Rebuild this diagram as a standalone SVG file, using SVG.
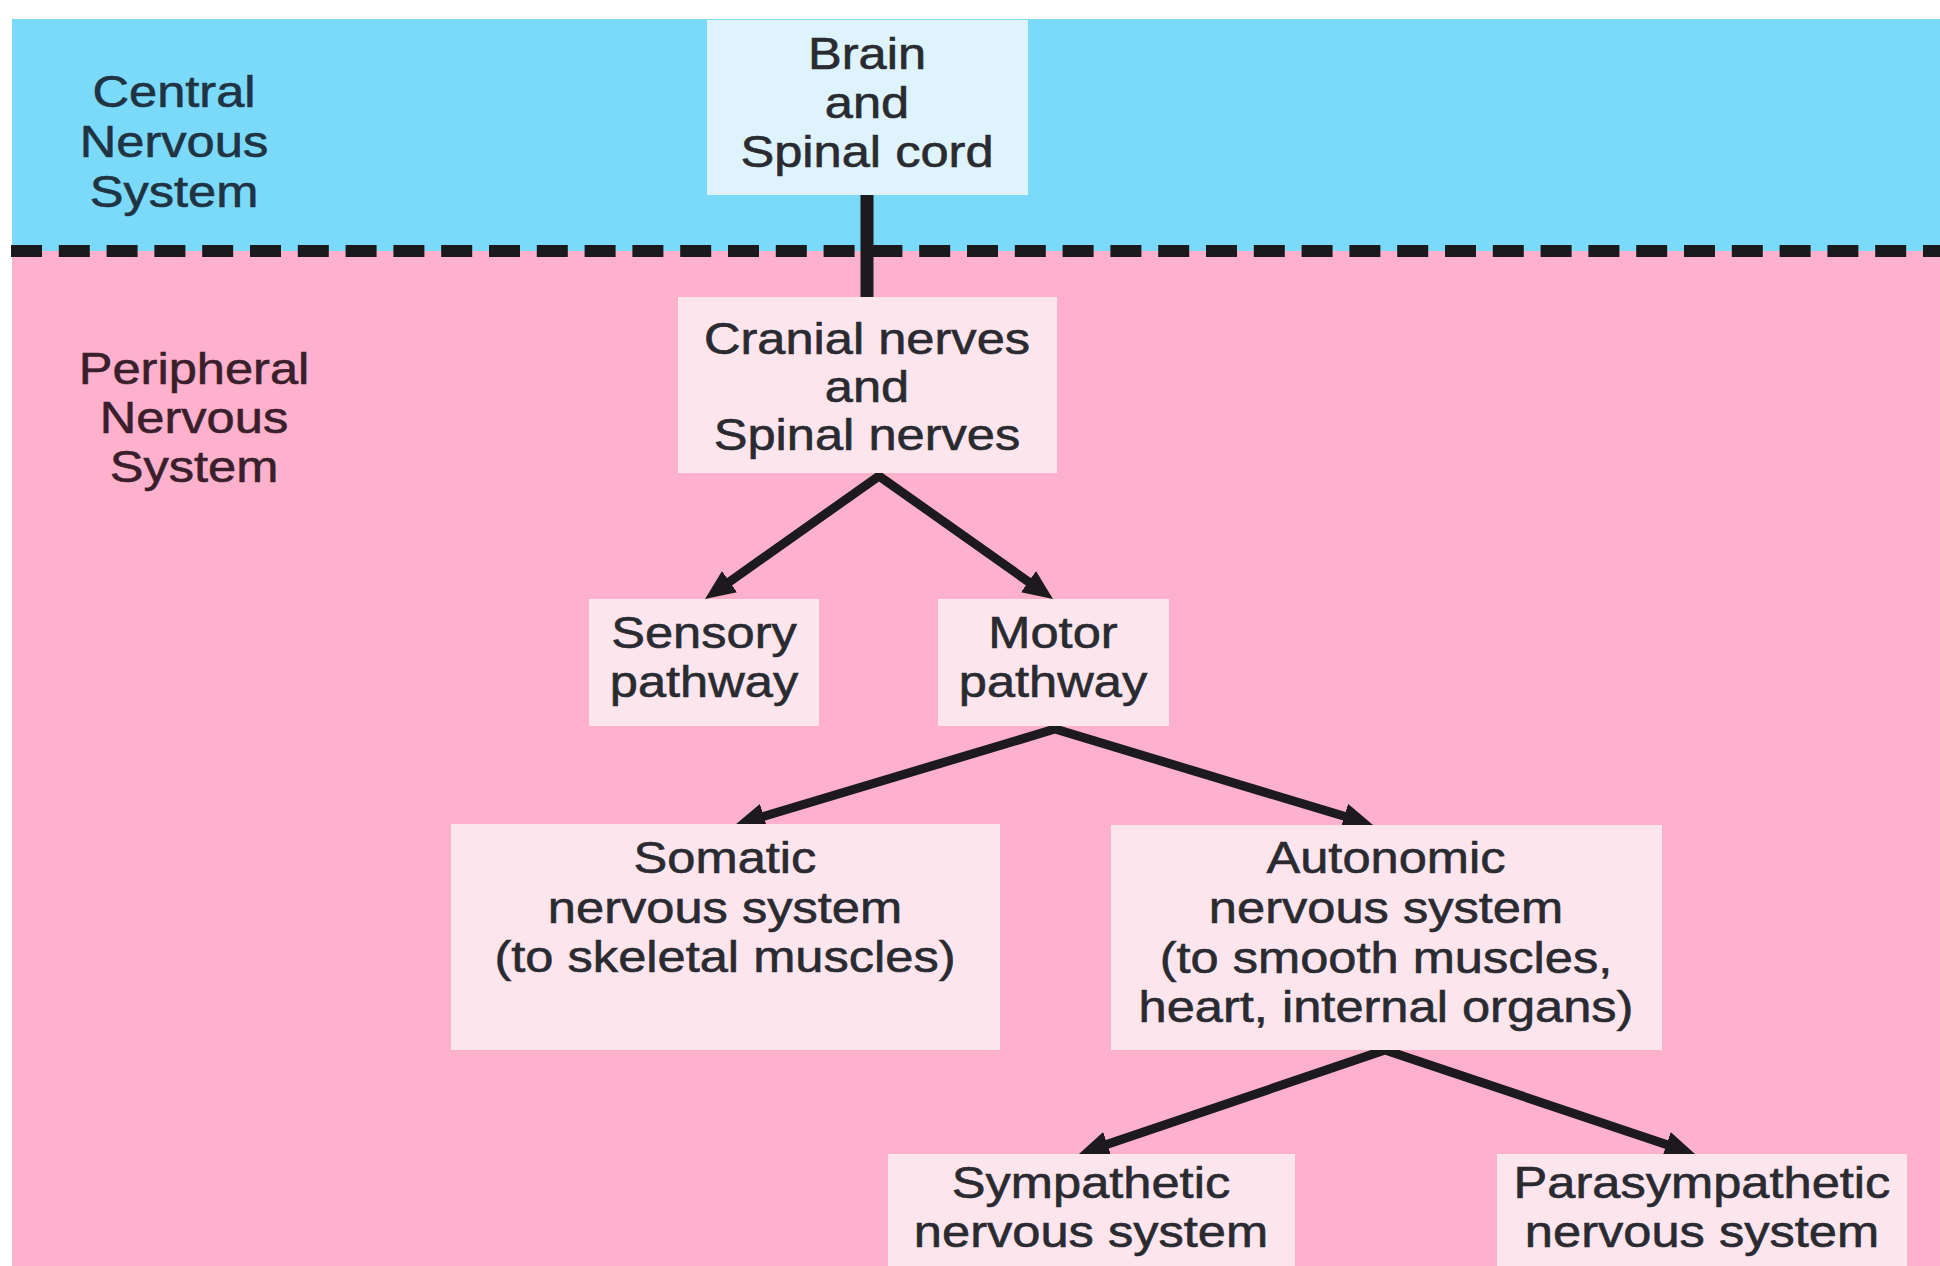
<svg xmlns="http://www.w3.org/2000/svg" width="1940" height="1266" viewBox="0 0 1940 1266">
<style>
  .lbl { font-family: "Liberation Sans", Arial, sans-serif; font-size: 44px; text-anchor: middle; fill: #2a2a31; stroke: #2a2a31; stroke-width: 0.6; }
  .cns { fill: #1f3343; stroke: #1f3343; }
  .pns { fill: #3a1e2c; stroke: #3a1e2c; }
  .pbox { fill: #fde5ee; }
  .bbox { fill: #def3fc; }
  .conn { fill: none; stroke: #1c1a1c; stroke-width: 9; stroke-linejoin: miter; marker-start: url(#ah); marker-end: url(#ah); }
</style>
<defs>
  <marker id="ah" viewBox="0 0 30 26" markerUnits="userSpaceOnUse" markerWidth="30" markerHeight="26" refX="14" refY="13" orient="auto-start-reverse">
    <path d="M0,0 L30,13 L0,26 z" fill="#1c1a1c"/>
  </marker>
</defs>

<!-- background bands -->
<rect x="0" y="0" width="1940" height="1266" fill="#ffffff"/>
<rect x="12" y="19" width="1928" height="235" fill="#7bd9fa"/>
<rect x="12" y="251" width="1928" height="1015" fill="#fdb1cc"/>
<line x1="11" y1="251" x2="1940" y2="251" stroke="#1a1a1e" stroke-width="12" stroke-dasharray="31 16.8"/>

<g id="label-cns">
  <text class="lbl cns" transform="translate(174 0) scale(1.15 1)"><tspan x="0" y="107">Central</tspan><tspan x="0" y="157">Nervous</tspan><tspan x="0" y="207">System</tspan></text>
</g>
<g id="label-pns">
  <text class="lbl pns" transform="translate(194 0) scale(1.15 1)"><tspan x="0" y="384">Peripheral</tspan><tspan x="0" y="433">Nervous</tspan><tspan x="0" y="482">System</tspan></text>
</g>

<g id="connectors">
  <line x1="867" y1="195" x2="867" y2="297" stroke="#1c1a1c" stroke-width="13"/>
  <path class="conn" d="M718.1,589.8 L879,476 L1039.9,589.8"/>
  <path class="conn" d="M750.3,820.4 L1055,729 L1357.7,820.3"/>
  <path class="conn" d="M1094.1,1148.8 L1385,1050 L1679.8,1148.9"/>
</g>

<g id="node-brain">
  <rect class="bbox" x="707" y="20" width="321" height="175"/>
  <text class="lbl" transform="translate(867 0) scale(1.15 1)"><tspan x="0" y="69">Brain</tspan><tspan x="0" y="118">and</tspan><tspan x="0" y="167">Spinal cord</tspan></text>
</g>

<g id="node-cranial">
  <rect class="pbox" x="678" y="297" width="379" height="176"/>
  <text class="lbl" transform="translate(867 0) scale(1.15 1)"><tspan x="0" y="354">Cranial nerves</tspan><tspan x="0" y="402">and</tspan><tspan x="0" y="450">Spinal nerves</tspan></text>
</g>

<g id="node-sensory">
  <rect class="pbox" x="589" y="599" width="230" height="127"/>
  <text class="lbl" transform="translate(704 0) scale(1.15 1)"><tspan x="0" y="648">Sensory</tspan><tspan x="0" y="697">pathway</tspan></text>
</g>

<g id="node-motor">
  <rect class="pbox" x="938" y="599" width="231" height="127"/>
  <text class="lbl" transform="translate(1053 0) scale(1.15 1)"><tspan x="0" y="648">Motor</tspan><tspan x="0" y="697">pathway</tspan></text>
</g>

<g id="node-somatic">
  <rect class="pbox" x="451" y="824" width="549" height="226"/>
  <text class="lbl" transform="translate(725 0) scale(1.15 1)"><tspan x="0" y="873">Somatic</tspan><tspan x="0" y="923">nervous system</tspan><tspan x="0" y="972">(to skeletal muscles)</tspan></text>
</g>

<g id="node-autonomic">
  <rect class="pbox" x="1111" y="825" width="551" height="225"/>
  <text class="lbl" transform="translate(1386 0) scale(1.15 1)"><tspan x="0" y="873">Autonomic</tspan><tspan x="0" y="923">nervous system</tspan><tspan x="0" y="973">(to smooth muscles,</tspan><tspan x="0" y="1022">heart, internal organs)</tspan></text>
</g>

<g id="node-sympathetic">
  <rect class="pbox" x="888" y="1154" width="407" height="120"/>
  <text class="lbl" transform="translate(1091 0) scale(1.15 1)"><tspan x="0" y="1198">Sympathetic</tspan><tspan x="0" y="1247">nervous system</tspan></text>
</g>

<g id="node-parasympathetic">
  <rect class="pbox" x="1497" y="1154" width="410" height="120"/>
  <text class="lbl" transform="translate(1702 0) scale(1.15 1)"><tspan x="0" y="1198">Parasympathetic</tspan><tspan x="0" y="1247">nervous system</tspan></text>
</g>
</svg>
